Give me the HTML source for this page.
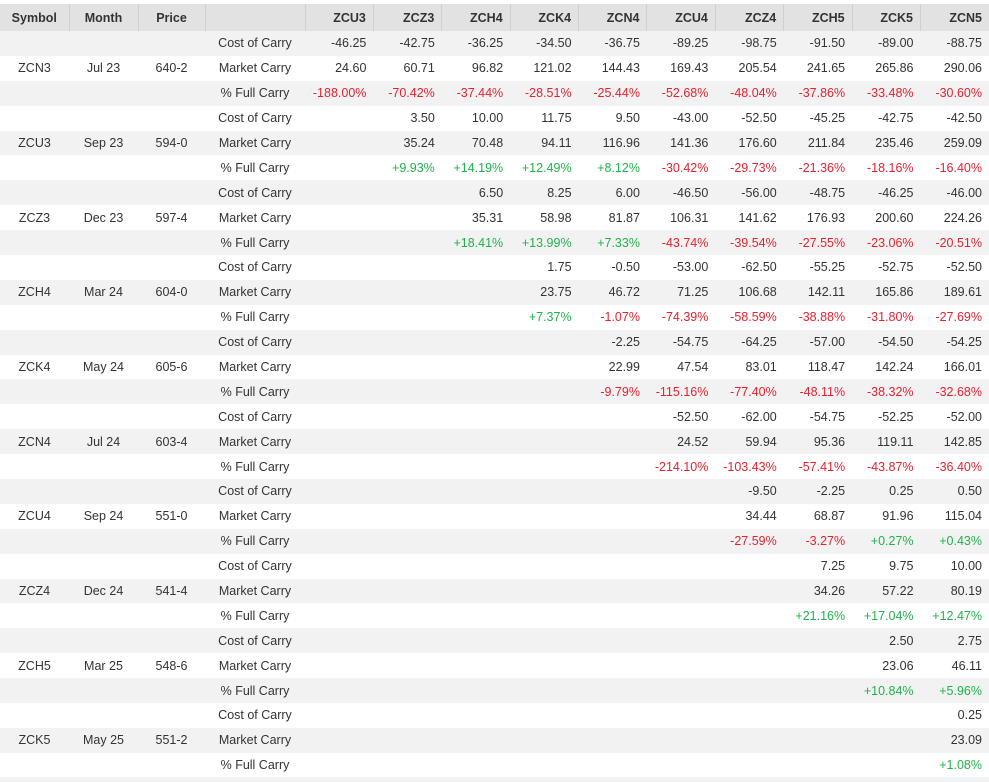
<!DOCTYPE html>
<html><head><meta charset="utf-8"><style>
body{margin:0;background:#fff;width:989px;height:782px;overflow:hidden;font-family:"Liberation Sans",sans-serif;font-size:12.5px;color:#333}
.bar{position:absolute;left:0;top:777px;width:989px;height:5px;background:#f2f2f2}
table{position:absolute;left:0;top:4px;border-collapse:collapse;table-layout:fixed;width:989px}
th{background:#e2e2e2;height:27px;font-weight:bold;padding:0 7px;border-left:1px solid #cfcfcf;text-align:right;font-size:12.5px;color:#333}
th:first-child{border-left:none}
th.c{text-align:center}
td{height:24.9px;padding:0 7px;text-align:right;white-space:nowrap}
td.c{text-align:center}
tbody tr:nth-child(odd) td{background:#f2f2f2}
.r{color:#e8202e}.g{color:#1fb449}
</style></head><body>
<table>
<colgroup><col style="width:69px"><col style="width:69px"><col style="width:67px"><col style="width:100px"><col span="10" style="width:68.4px"></colgroup>
<thead><tr><th class="c">Symbol</th><th class="c">Month</th><th class="c">Price</th><th></th><th>ZCU3</th><th>ZCZ3</th><th>ZCH4</th><th>ZCK4</th><th>ZCN4</th><th>ZCU4</th><th>ZCZ4</th><th>ZCH5</th><th>ZCK5</th><th>ZCN5</th></tr></thead>
<tbody>
<tr><td></td><td></td><td></td><td class="c">Cost of Carry</td><td>-46.25</td><td>-42.75</td><td>-36.25</td><td>-34.50</td><td>-36.75</td><td>-89.25</td><td>-98.75</td><td>-91.50</td><td>-89.00</td><td>-88.75</td></tr>
<tr><td class="c">ZCN3</td><td class="c">Jul 23</td><td class="c">640-2</td><td class="c">Market Carry</td><td>24.60</td><td>60.71</td><td>96.82</td><td>121.02</td><td>144.43</td><td>169.43</td><td>205.54</td><td>241.65</td><td>265.86</td><td>290.06</td></tr>
<tr><td></td><td></td><td></td><td class="c">% Full Carry</td><td class="r">-188.00%</td><td class="r">-70.42%</td><td class="r">-37.44%</td><td class="r">-28.51%</td><td class="r">-25.44%</td><td class="r">-52.68%</td><td class="r">-48.04%</td><td class="r">-37.86%</td><td class="r">-33.48%</td><td class="r">-30.60%</td></tr>

<tr><td></td><td></td><td></td><td class="c">Cost of Carry</td><td></td><td>3.50</td><td>10.00</td><td>11.75</td><td>9.50</td><td>-43.00</td><td>-52.50</td><td>-45.25</td><td>-42.75</td><td>-42.50</td></tr>
<tr><td class="c">ZCU3</td><td class="c">Sep 23</td><td class="c">594-0</td><td class="c">Market Carry</td><td></td><td>35.24</td><td>70.48</td><td>94.11</td><td>116.96</td><td>141.36</td><td>176.60</td><td>211.84</td><td>235.46</td><td>259.09</td></tr>
<tr><td></td><td></td><td></td><td class="c">% Full Carry</td><td></td><td class="g">+9.93%</td><td class="g">+14.19%</td><td class="g">+12.49%</td><td class="g">+8.12%</td><td class="r">-30.42%</td><td class="r">-29.73%</td><td class="r">-21.36%</td><td class="r">-18.16%</td><td class="r">-16.40%</td></tr>

<tr><td></td><td></td><td></td><td class="c">Cost of Carry</td><td></td><td></td><td>6.50</td><td>8.25</td><td>6.00</td><td>-46.50</td><td>-56.00</td><td>-48.75</td><td>-46.25</td><td>-46.00</td></tr>
<tr><td class="c">ZCZ3</td><td class="c">Dec 23</td><td class="c">597-4</td><td class="c">Market Carry</td><td></td><td></td><td>35.31</td><td>58.98</td><td>81.87</td><td>106.31</td><td>141.62</td><td>176.93</td><td>200.60</td><td>224.26</td></tr>
<tr><td></td><td></td><td></td><td class="c">% Full Carry</td><td></td><td></td><td class="g">+18.41%</td><td class="g">+13.99%</td><td class="g">+7.33%</td><td class="r">-43.74%</td><td class="r">-39.54%</td><td class="r">-27.55%</td><td class="r">-23.06%</td><td class="r">-20.51%</td></tr>

<tr><td></td><td></td><td></td><td class="c">Cost of Carry</td><td></td><td></td><td></td><td>1.75</td><td>-0.50</td><td>-53.00</td><td>-62.50</td><td>-55.25</td><td>-52.75</td><td>-52.50</td></tr>
<tr><td class="c">ZCH4</td><td class="c">Mar 24</td><td class="c">604-0</td><td class="c">Market Carry</td><td></td><td></td><td></td><td>23.75</td><td>46.72</td><td>71.25</td><td>106.68</td><td>142.11</td><td>165.86</td><td>189.61</td></tr>
<tr><td></td><td></td><td></td><td class="c">% Full Carry</td><td></td><td></td><td></td><td class="g">+7.37%</td><td class="r">-1.07%</td><td class="r">-74.39%</td><td class="r">-58.59%</td><td class="r">-38.88%</td><td class="r">-31.80%</td><td class="r">-27.69%</td></tr>

<tr><td></td><td></td><td></td><td class="c">Cost of Carry</td><td></td><td></td><td></td><td></td><td>-2.25</td><td>-54.75</td><td>-64.25</td><td>-57.00</td><td>-54.50</td><td>-54.25</td></tr>
<tr><td class="c">ZCK4</td><td class="c">May 24</td><td class="c">605-6</td><td class="c">Market Carry</td><td></td><td></td><td></td><td></td><td>22.99</td><td>47.54</td><td>83.01</td><td>118.47</td><td>142.24</td><td>166.01</td></tr>
<tr><td></td><td></td><td></td><td class="c">% Full Carry</td><td></td><td></td><td></td><td></td><td class="r">-9.79%</td><td class="r">-115.16%</td><td class="r">-77.40%</td><td class="r">-48.11%</td><td class="r">-38.32%</td><td class="r">-32.68%</td></tr>

<tr><td></td><td></td><td></td><td class="c">Cost of Carry</td><td></td><td></td><td></td><td></td><td></td><td>-52.50</td><td>-62.00</td><td>-54.75</td><td>-52.25</td><td>-52.00</td></tr>
<tr><td class="c">ZCN4</td><td class="c">Jul 24</td><td class="c">603-4</td><td class="c">Market Carry</td><td></td><td></td><td></td><td></td><td></td><td>24.52</td><td>59.94</td><td>95.36</td><td>119.11</td><td>142.85</td></tr>
<tr><td></td><td></td><td></td><td class="c">% Full Carry</td><td></td><td></td><td></td><td></td><td></td><td class="r">-214.10%</td><td class="r">-103.43%</td><td class="r">-57.41%</td><td class="r">-43.87%</td><td class="r">-36.40%</td></tr>

<tr><td></td><td></td><td></td><td class="c">Cost of Carry</td><td></td><td></td><td></td><td></td><td></td><td></td><td>-9.50</td><td>-2.25</td><td>0.25</td><td>0.50</td></tr>
<tr><td class="c">ZCU4</td><td class="c">Sep 24</td><td class="c">551-0</td><td class="c">Market Carry</td><td></td><td></td><td></td><td></td><td></td><td></td><td>34.44</td><td>68.87</td><td>91.96</td><td>115.04</td></tr>
<tr><td></td><td></td><td></td><td class="c">% Full Carry</td><td></td><td></td><td></td><td></td><td></td><td></td><td class="r">-27.59%</td><td class="r">-3.27%</td><td class="g">+0.27%</td><td class="g">+0.43%</td></tr>

<tr><td></td><td></td><td></td><td class="c">Cost of Carry</td><td></td><td></td><td></td><td></td><td></td><td></td><td></td><td>7.25</td><td>9.75</td><td>10.00</td></tr>
<tr><td class="c">ZCZ4</td><td class="c">Dec 24</td><td class="c">541-4</td><td class="c">Market Carry</td><td></td><td></td><td></td><td></td><td></td><td></td><td></td><td>34.26</td><td>57.22</td><td>80.19</td></tr>
<tr><td></td><td></td><td></td><td class="c">% Full Carry</td><td></td><td></td><td></td><td></td><td></td><td></td><td></td><td class="g">+21.16%</td><td class="g">+17.04%</td><td class="g">+12.47%</td></tr>

<tr><td></td><td></td><td></td><td class="c">Cost of Carry</td><td></td><td></td><td></td><td></td><td></td><td></td><td></td><td></td><td>2.50</td><td>2.75</td></tr>
<tr><td class="c">ZCH5</td><td class="c">Mar 25</td><td class="c">548-6</td><td class="c">Market Carry</td><td></td><td></td><td></td><td></td><td></td><td></td><td></td><td></td><td>23.06</td><td>46.11</td></tr>
<tr><td></td><td></td><td></td><td class="c">% Full Carry</td><td></td><td></td><td></td><td></td><td></td><td></td><td></td><td></td><td class="g">+10.84%</td><td class="g">+5.96%</td></tr>

<tr><td></td><td></td><td></td><td class="c">Cost of Carry</td><td></td><td></td><td></td><td></td><td></td><td></td><td></td><td></td><td></td><td>0.25</td></tr>
<tr><td class="c">ZCK5</td><td class="c">May 25</td><td class="c">551-2</td><td class="c">Market Carry</td><td></td><td></td><td></td><td></td><td></td><td></td><td></td><td></td><td></td><td>23.09</td></tr>
<tr><td></td><td></td><td></td><td class="c">% Full Carry</td><td></td><td></td><td></td><td></td><td></td><td></td><td></td><td></td><td></td><td class="g">+1.08%</td></tr>
</tbody></table>
<div class="bar"></div>
</body></html>
